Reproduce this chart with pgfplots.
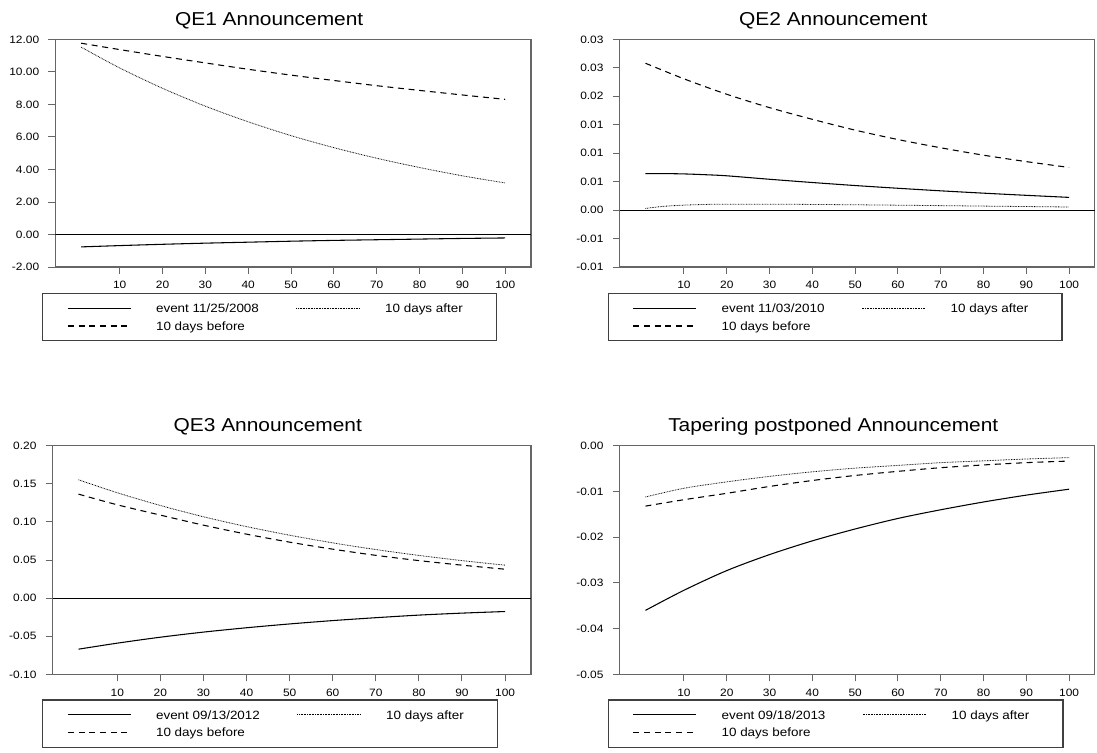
\documentclass[border=0pt]{standalone}
\usepackage{fontspec}
\setmainfont{Liberation Sans}[FakeStretch=1.12]
\usepackage{pgfplots}
\pgfplotsset{compat=1.18}

\pgfplotsset{
  panel/.style={
    scale only axis, anchor=north west,
    xmin=-5, xmax=106,
    xtick={10,20,30,40,50,60,70,80,90,100},
    xticklabels={10,20,30,40,50,60,70,80,90,100},
    scaled ticks=false,
    xtick pos=bottom, ytick pos=left,
    tick align=outside, major tick length=5.25pt,
    tick style={color=black!60, line width=0.75pt},
    axis line style={black!60, line width=0.9pt},
    ticklabel style={font=\fontsize{8}{9}\selectfont, inner sep=0pt},
    xticklabel style={yshift=-5.25pt},
    yticklabel style={xshift=-6.75pt},
    title style={at={(0.5,1)}, anchor=base, xshift=-18pt, yshift=4.5pt,
                 font=\fontsize{14}{16}\selectfont, inner sep=0pt},
    legend columns=2, legend cell align=left,
    legend image code/.code={\draw[##1] (0pt,0pt) -- (47pt,0pt);},
    legend style={draw=black!75, line width=0.9pt,
      font=\fontsize{9}{10}\selectfont,
      inner xsep=18.5pt, inner ysep=7.9pt,
      at={(0,0)}, anchor=north west,
      nodes={inner sep=0pt, text height=6.5pt, text depth=0pt},
      row sep=6.8pt,
      /tikz/column 1/.style={column sep=18.75pt},
      /tikz/column 2/.style={column sep=27.75pt},
      /tikz/column 3/.style={column sep=19.3pt}},
  },
  ev/.style={black, line width=0.8pt, smooth},
  af/.style={black, line width=0.6pt, dash pattern=on 0.55pt off 0.65pt, smooth},
  bf/.style={black, line width=0.8pt, dash pattern=on 4.5pt off 3.5pt, smooth},
  zero/.style={black, line width=0.7pt, forget plot},
}

\begin{document}
\begin{tikzpicture}
\path[use as bounding box] (0pt,0pt) rectangle (822.75pt,-564.75pt);

% ---------------- QE1 ----------------
\begin{axis}[panel, at={(41.6pt,-29.5pt)}, width=356.6pt, height=170.8pt,
  title={QE1 Announcement},
  ymin=-2, ymax=12, ytick={-2,0,2,4,6,8,10,12},
  yticklabels={-2.00,0.00,2.00,4.00,6.00,8.00,10.00,12.00},
  legend style={xshift=-10.05pt, yshift=-19.3pt}]
\addplot[zero] coordinates {(-5,0) (106,0)};
\addplot[ev] coordinates {(1,-0.76) (10,-0.68) (20,-0.60) (30,-0.53) (40,-0.47) (50,-0.41) (60,-0.36) (70,-0.32) (80,-0.28) (90,-0.24) (100,-0.21)};
\addlegendentry{event 11/25/2008}
\addplot[af] coordinates {(1,11.52) (10,10.24) (20,8.99) (30,7.89) (40,6.93) (50,6.08) (60,5.34) (70,4.69) (80,4.12) (90,3.61) (100,3.17)};
\addlegendentry{\makebox[65pt][l]{10 days after}}
\addplot[bf] coordinates {(1,11.76) (10,11.37) (20,10.95) (30,10.55) (40,10.16) (50,9.80) (60,9.47) (70,9.15) (80,8.86) (90,8.58) (100,8.31)};
\addlegendentry{10 days before}
\end{axis}

% ---------------- QE2 ----------------
\begin{axis}[panel, at={(464.85pt,-29.5pt)}, width=356.25pt, height=170.8pt,
  title={QE2 Announcement},
  ymin=-0.01, ymax=0.03,
  ytick={-0.01,-0.005,0,0.005,0.01,0.015,0.02,0.025,0.03},
  yticklabels={-0.01,-0.01,0.00,0.01,0.01,0.01,0.02,0.03,0.03},
  legend style={xshift=-9.15pt, yshift=-19.3pt}]
\addplot[zero] coordinates {(-5,0) (106,0)};
\addplot[ev] coordinates {(1,0.00640) (5,0.00642) (10,0.00636) (15,0.00622) (20,0.00603) (30,0.00542) (40,0.00485) (50,0.00432) (60,0.00384) (70,0.00339) (80,0.00298) (90,0.00260) (100,0.00224)};
\addlegendentry{event 11/03/2010}
\addplot[af] coordinates {(1,0.00030) (5,0.00065) (10,0.00088) (15,0.00100) (20,0.00104) (30,0.00104) (40,0.00100) (50,0.00094) (60,0.00087) (70,0.00079) (80,0.00071) (90,0.00063) (100,0.00055)};
\addlegendentry{\makebox[65pt][l]{10 days after}}
\addplot[bf] coordinates {(1,0.02580) (10,0.02306) (20,0.02035) (30,0.01800) (40,0.01595) (50,0.01405) (60,0.01240) (70,0.01095) (80,0.00965) (90,0.00852) (100,0.00750)};
\addlegendentry{10 days before}
\end{axis}

% ---------------- QE3 ----------------
\begin{axis}[panel, at={(39.5pt,-334.3pt)}, width=358.7pt, height=171.5pt,
  title={QE3 Announcement},
  ymin=-0.1, ymax=0.2, ytick={-0.1,-0.05,0,0.05,0.1,0.15,0.2},
  yticklabels={-0.10,-0.05,0.00,0.05,0.10,0.15,0.20},
  legend style={xshift=-7.95pt, yshift=-18.75pt}]
\addplot[zero] coordinates {(-5,0) (106,0)};
\addplot[ev] coordinates {(1,-0.0669) (10,-0.0590) (20,-0.0512) (30,-0.0445) (40,-0.0388) (50,-0.0338) (60,-0.0294) (70,-0.0256) (80,-0.0222) (90,-0.0196) (100,-0.0175)};
\addlegendentry{event 09/13/2012}
\addplot[af] coordinates {(1,0.1553) (10,0.1383) (20,0.1216) (30,0.1068) (40,0.0939) (50,0.0826) (60,0.0726) (70,0.0638) (80,0.0561) (90,0.0493) (100,0.0433)};
\addlegendentry{\makebox[65pt][l]{10 days after}}
\addplot[bf] coordinates {(1,0.1365) (10,0.1225) (20,0.1090) (30,0.0958) (40,0.0840) (50,0.0735) (60,0.0643) (70,0.0562) (80,0.0493) (90,0.0433) (100,0.0380)};
\addlegendentry{10 days before}
\end{axis}

% ---------------- Tapering ----------------
\begin{axis}[panel, at={(464.85pt,-334.3pt)}, width=356.25pt, height=171.5pt,
  title={Tapering postponed Announcement},
  ymin=-0.05, ymax=0, ytick={-0.05,-0.04,-0.03,-0.02,-0.01,0},
  yticklabels={-0.05,-0.04,-0.03,-0.02,-0.01,0.00},
  legend style={xshift=-9.15pt, yshift=-18.75pt}]
\addplot[ev] coordinates {(1,-0.0360) (10,-0.0316) (20,-0.0273) (30,-0.0238) (40,-0.0208) (50,-0.0182) (60,-0.0159) (70,-0.0140) (80,-0.0123) (90,-0.0108) (100,-0.0095)};
\addlegendentry{event 09/18/2013}
\addplot[af] coordinates {(1,-0.0112) (10,-0.0093) (20,-0.0079) (30,-0.0067) (40,-0.0057) (50,-0.0049) (60,-0.0043) (70,-0.0037) (80,-0.0033) (90,-0.0029) (100,-0.0026)};
\addlegendentry{\makebox[65pt][l]{10 days after}}
\addplot[bf] coordinates {(1,-0.0132) (10,-0.0118) (20,-0.0104) (30,-0.0089) (40,-0.0076) (50,-0.0065) (60,-0.0056) (70,-0.0048) (80,-0.0042) (90,-0.0037) (100,-0.00335)};
\addlegendentry{10 days before}
\end{axis}
\end{tikzpicture}
\end{document}
